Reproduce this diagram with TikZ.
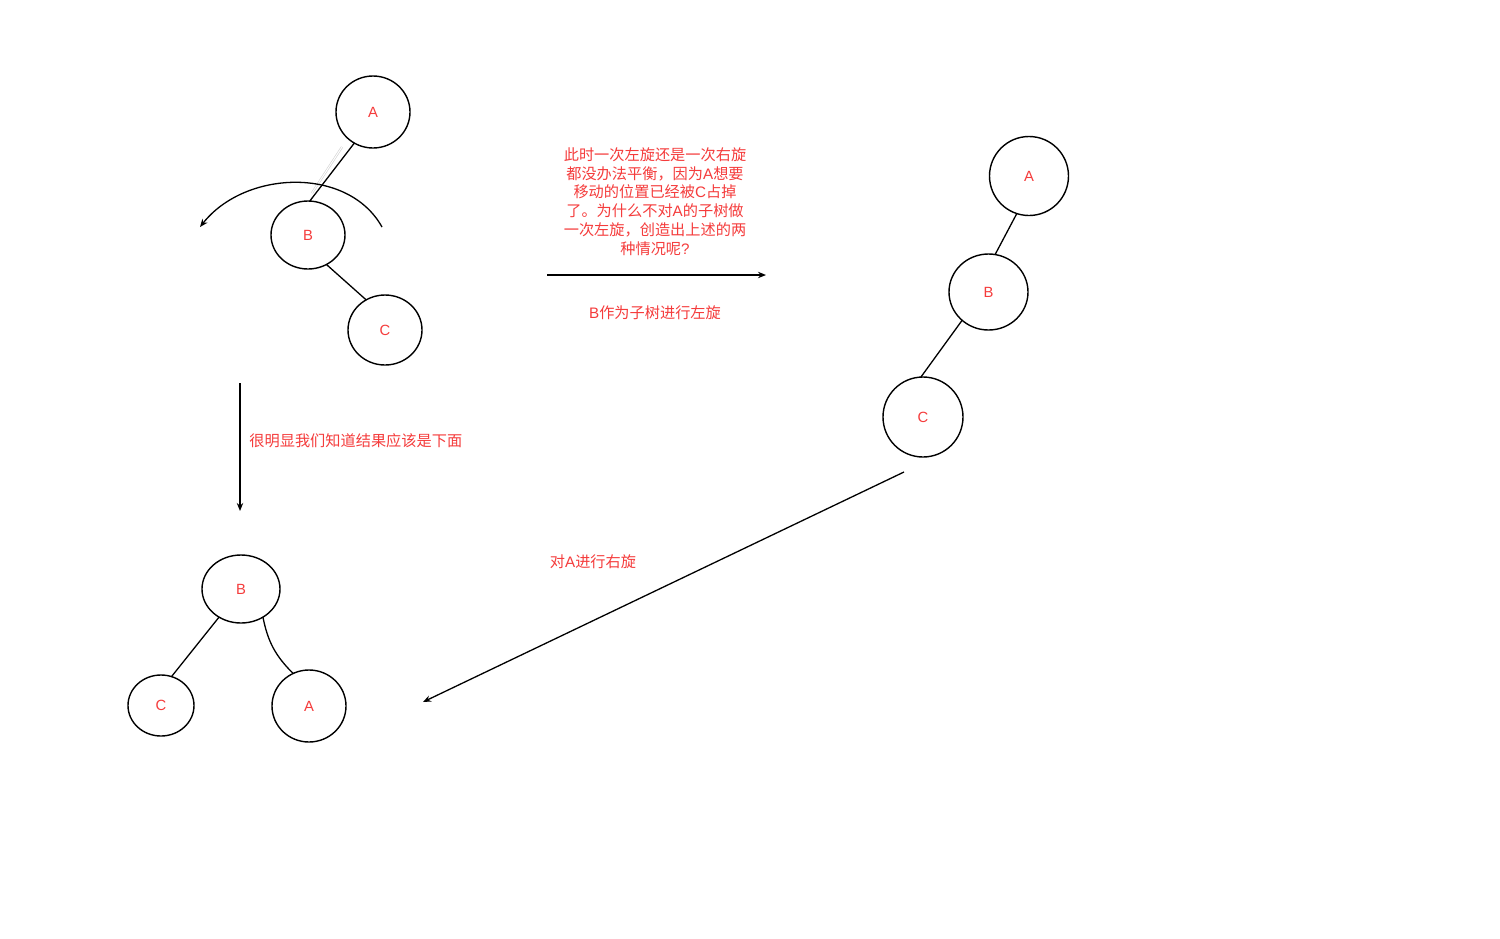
\documentclass[tikz,border=0pt]{standalone}
\usepackage{fontspec}
\setmainfont{Noto Sans CJK SC}
\newfontfamily\latf{Liberation Sans}
\newcommand{\LA}[1]{{\latf #1}}
\usetikzlibrary{shapes.geometric,arrows.meta}
\definecolor{txtred}{RGB}{245,60,60}
\tikzset{
  tnode/.style={ellipse,draw=black,line width=0.7pt,inner sep=0pt,outer sep=0pt,text=txtred,font=\latf\fontsize{7.4pt}{9pt}\selectfont},
  link/.style={draw=black,line width=0.65pt},
  arr/.style={draw=black,line width=0.65pt,-{Stealth[length=4pt,width=3.2pt]}},
  lbl/.style={text=txtred,inner sep=0pt,font=\fontsize{7.6pt}{9.35pt}\selectfont},
}
\begin{document}
\begin{tikzpicture}[x=0.5pt,y=-0.5pt]
\useasboundingbox[fill=white] (0,0) rectangle (1500,938);
% top-left tree
\node[tnode,minimum width=37pt,minimum height=36pt] (a1) at (373,112) {A};
\node[tnode,minimum width=37pt,minimum height=34pt] (b1) at (308,235) {B};
\node[tnode,minimum width=37pt,minimum height=35pt] (c1) at (385,330) {C};
\coordinate (g1) at (342,147);
\coordinate (g2) at (312,193);
\draw[draw=gray!35,line width=0.3pt,double=white,double distance=0.5pt] (g1) -- (g2);
\draw[link] (a1.239) -- (b1.87);
\draw[link] (b1.-58) -- (c1.122);
\coordinate (arcs) at (382,227);
\coordinate (arce) at (200,227);
\draw[arr] (arcs) .. controls (348,166) and (245,170) .. (arce);
% text block
\node[lbl,align=center] (t1) at (655,201.5) {此时一次左旋还是一次右旋\\都没办法平衡，因为\LA{A}想要\\移动的位置已经被\LA{C}占掉\\了。为什么不对\LA{A}的子树做\\一次左旋，创造出上述的两\\种情况呢\LA{?}};
\coordinate (h1) at (547,275);
\coordinate (h2) at (766,275);
\draw[arr] (h1) -- (h2);
\node[lbl] (t2) at (655,313) {\LA{B}作为子树进行左旋};
% right tree
\node[tnode,minimum width=39.5pt,minimum height=39.5pt] (a2) at (1029,176) {A};
\node[tnode,minimum width=39.5pt,minimum height=38pt] (b2) at (988.5,292) {B};
\node[tnode,minimum width=40pt,minimum height=40pt] (c2) at (923,417) {C};
\draw[link] (a2.252) -- (b2.80);
\draw[link] (b2.227) -- (c2.93);
% vertical arrow
\coordinate (v1) at (240,383);
\coordinate (v2) at (240,511);
\draw[arr] (v1) -- (v2);
\node[lbl,anchor=west] (t3) at (249,441) {很明显我们知道结果应该是下面};
% diagonal arrow
\coordinate (d1) at (904,472);
\coordinate (d2) at (423,702);
\draw[arr] (d1) -- (d2);
\node[lbl] (t4) at (593,562) {对\LA{A}进行右旋};
% bottom tree
\node[tnode,minimum width=39pt,minimum height=34pt] (b3) at (241,589) {B};
\node[tnode,minimum width=33pt,minimum height=30.5pt] (c3) at (161,705.5) {C};
\node[tnode,minimum width=37pt,minimum height=36pt] (a3) at (309,706) {A};
\draw[link] (b3.232) -- (c3.70);
\draw[link] (b3.-52) to[bend right=17] (a3.116);
\end{tikzpicture}
\end{document}
